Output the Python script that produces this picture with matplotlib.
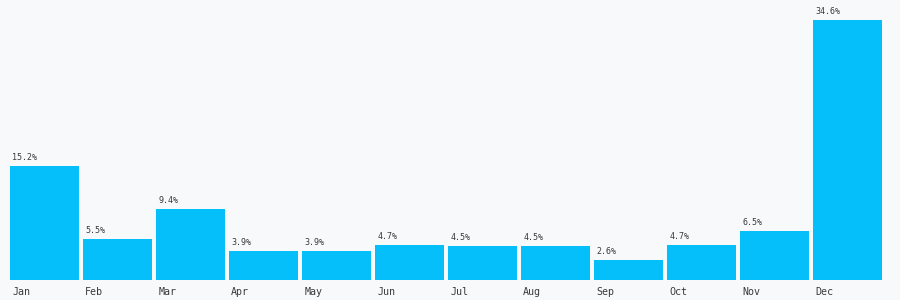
import matplotlib
matplotlib.use("Agg")
import matplotlib.pyplot as plt

months = ['Jan', 'Feb', 'Mar', 'Apr', 'May', 'Jun', 'Jul', 'Aug', 'Sep', 'Oct', 'Nov', 'Dec']
shares = [15.2, 5.5, 9.4, 3.9, 3.9, 4.7, 4.5, 4.5, 2.6, 4.7, 6.5, 34.6]

bg = '#f8f9fb'
bar_color = '#05bffb'
text_color = '#3a3a3a'

fig = plt.figure(figsize=(9, 3), dpi=100, facecolor=bg)
ax = fig.add_axes([10 / 900, 20 / 300, 876 / 900, 260 / 300])
ax.set_facecolor(bg)

# bars left aligned on integer slots
xs = list(range(len(months)))
ax.bar(xs, shares, width=69 / 73, align='edge', color=bar_color)

for x, v in zip(xs, shares):
    ax.annotate(f'{v}%', (x, v), xytext=(1.5, 3), textcoords='offset points',
                ha='left', va='bottom', fontsize=6, family='DejaVu Sans Mono',
                color=text_color, annotation_clip=False)

ax.set_xlim(0, len(months))
ax.set_ylim(0, max(shares))
ax.set_xticks([x + 0.03 for x in xs])
ax.set_xticklabels(months, ha='left', fontsize=7.2, family='DejaVu Sans Mono', color=text_color)
ax.tick_params(axis='x', length=0, pad=5)
ax.set_yticks([])
for s in ax.spines.values():
    s.set_visible(False)

fig.savefig('out.png', dpi=100, facecolor=bg)
